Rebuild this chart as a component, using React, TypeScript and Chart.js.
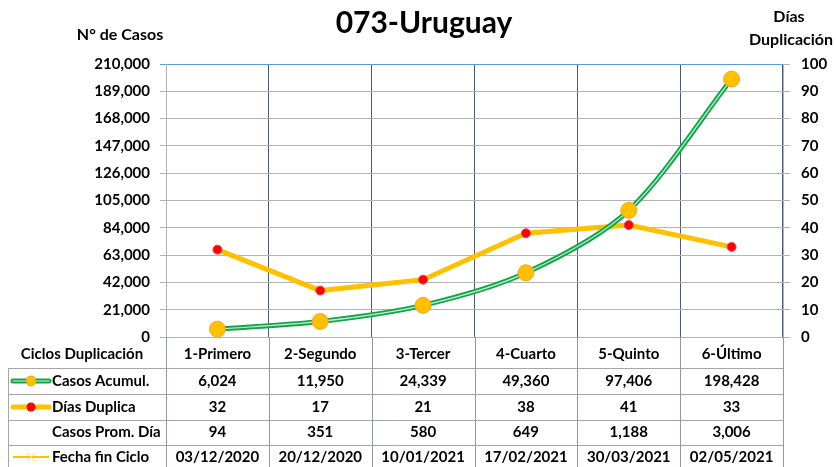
import React, { useEffect, useRef } from "react";
import { Chart, registerables } from "chart.js";

Chart.register(...registerables);

const categories = ["1-Primero", "2-Segundo", "3-Tercer", "4-Cuarto", "5-Quinto", "6-Último"];
const casosAcumul = [6024, 11950, 24339, 49360, 97406, 198428];
const diasDuplica = [32, 17, 21, 38, 41, 33];
const casosPromDia = [94, 351, 580, 649, 1188, 3006];
const fechaFinCiclo = ["03/12/2020", "20/12/2020", "10/01/2021", "17/02/2021", "30/03/2021", "02/05/2021"];

const FONT = "Lato, 'Open Sans', sans-serif";
const GREEN = "#12a54a";
const GREEN_LIGHT = "#c9f0d2";
const ORANGE = "#ffc000";
const RED = "#ff0000";
const GRID = "#b3b3b3";
const VGRID = "#4b5b70";

const fmt = (n: number) => n.toLocaleString("en-US");

const tablePlugin = {
  id: "tablePlugin",
  afterDraw(chart: any) {
    const ctx = chart.ctx as CanvasRenderingContext2D;
    const area = chart.chartArea;
    const xs = chart.scales.x;
    const n = categories.length;
    const colW = (area.right - area.left) / n;
    ctx.save();

    // titles
    ctx.fillStyle = "#000";
    ctx.textAlign = "center";
    ctx.textBaseline = "middle";
    ctx.font = `bold 30px ${FONT}`;
    ctx.fillText("073-Uruguay", 424, 23);
    ctx.font = `bold 16px ${FONT}`;
    ctx.fillText("N° de Casos", 120, 35);
    ctx.fillText("Días", 789, 17);
    ctx.fillText("Duplicación", 791, 40);

    // table lines
    const rowLines = [368, 394, 420, 445];
    const bottom = 470;
    ctx.lineWidth = 1;
    ctx.strokeStyle = "#a6a6a6";
    rowLines.forEach((y) => {
      ctx.beginPath();
      ctx.moveTo(8, y + 0.5);
      ctx.lineTo(area.right, y + 0.5);
      ctx.stroke();
    });
    ctx.beginPath();
    ctx.moveTo(8.5, rowLines[0]);
    ctx.lineTo(8.5, bottom);
    ctx.stroke();
    ctx.strokeStyle = "#8e9aab";
    for (let i = 0; i <= n; i++) {
      const x = Math.round(area.left + i * colW) + 0.5;
      ctx.beginPath();
      ctx.moveTo(x, area.bottom);
      ctx.lineTo(x, bottom);
      ctx.stroke();
    }

    // header label
    ctx.fillStyle = "#000";
    ctx.font = `bold 15px ${FONT}`;
    ctx.textAlign = "center";
    ctx.fillText("Ciclos Duplicación", 82, 354);

    const rowsY = [381, 407, 432, 457];
    const labels = ["Casos Acumul.", "Días Duplica", "Casos Prom. Día", "Fecha fin Ciclo"];
    const rows = [casosAcumul.map(fmt), diasDuplica.map(String), casosPromDia.map(fmt), fechaFinCiclo];
    ctx.textAlign = "left";
    labels.forEach((l, r) => ctx.fillText(l, 52, rowsY[r]));
    ctx.textAlign = "center";
    rows.forEach((row, r) => {
      row.forEach((v, i) => ctx.fillText(v, xs.getPixelForValue(i), rowsY[r]));
    });

    // legend keys
    ctx.lineCap = "round";
    ctx.strokeStyle = GREEN;
    ctx.lineWidth = 5;
    ctx.beginPath();
    ctx.moveTo(13, rowsY[0]);
    ctx.lineTo(49, rowsY[0]);
    ctx.stroke();
    ctx.strokeStyle = GREEN_LIGHT;
    ctx.lineWidth = 1.2;
    ctx.beginPath();
    ctx.moveTo(13, rowsY[0]);
    ctx.lineTo(49, rowsY[0]);
    ctx.stroke();
    ctx.fillStyle = ORANGE;
    ctx.strokeStyle = "#f0a020";
    ctx.lineWidth = 1;
    ctx.beginPath();
    ctx.arc(31, rowsY[0], 5, 0, Math.PI * 2);
    ctx.fill();
    ctx.stroke();
    ctx.strokeStyle = ORANGE;
    ctx.lineWidth = 5;
    ctx.beginPath();
    ctx.moveTo(13, rowsY[1]);
    ctx.lineTo(49, rowsY[1]);
    ctx.stroke();
    ctx.fillStyle = RED;
    ctx.beginPath();
    ctx.arc(31, rowsY[1], 4.5, 0, Math.PI * 2);
    ctx.fill();
    ctx.lineCap = "butt";
    ctx.strokeStyle = ORANGE;
    ctx.lineWidth = 2;
    ctx.beginPath();
    ctx.moveTo(13, rowsY[3]);
    ctx.lineTo(49, rowsY[3]);
    ctx.stroke();
    ctx.strokeStyle = "#ffd966";
    ctx.lineWidth = 1;
    ctx.beginPath();
    ctx.moveTo(27, rowsY[3] - 4);
    ctx.lineTo(35, rowsY[3] + 4);
    ctx.moveTo(35, rowsY[3] - 4);
    ctx.lineTo(27, rowsY[3] + 4);
    ctx.stroke();

    ctx.restore();
  },
};

export default function App() {
  const ref = useRef<HTMLCanvasElement>(null);
  useEffect(() => {
    if (!ref.current) return;
    const tickFont = { family: FONT, size: 15, weight: "bold" as const };
    const chart = new Chart(ref.current, {
      type: "line",
      data: {
        labels: categories,
        datasets: [
          {
            label: "Casos Acumul.",
            data: casosAcumul,
            yAxisID: "y",
            borderColor: GREEN_LIGHT,
            borderWidth: 1.2,
            tension: 0.3,
            pointRadius: 8,
            pointBackgroundColor: ORANGE,
            pointBorderColor: "#f4a62a",
            pointBorderWidth: 1,
            order: 0,
          },
          {
            label: "Casos base",
            data: casosAcumul,
            yAxisID: "y",
            borderColor: GREEN,
            borderWidth: 5,
            tension: 0.3,
            pointRadius: 0,
            order: 1,
          },
          {
            label: "Días Duplica",
            data: diasDuplica,
            yAxisID: "y1",
            borderColor: ORANGE,
            borderWidth: 5,
            tension: 0,
            pointRadius: 4.5,
            pointBackgroundColor: RED,
            pointBorderColor: "#e8484f",
            pointBorderWidth: 1,
            order: 2,
          },
        ],
      },
      options: {
        responsive: false,
        animation: false,
        layout: { padding: { top: 64, left: 0, right: 0, bottom: 0 } },
        plugins: { legend: { display: false }, title: { display: false }, tooltip: { enabled: false } },
        scales: {
          x: {
            offset: true,
            grid: { offset: true, color: VGRID, drawTicks: false, lineWidth: 1 },
            border: { color: GRID },
            ticks: { font: tickFont, color: "#000", padding: 8, maxRotation: 0 },
            afterFit: (s: any) => {
              s.height = 130;
            },
          },
          y: {
            position: "left",
            min: 0,
            max: 210000,
            ticks: { stepSize: 21000, font: tickFont, color: "#000", padding: 10, callback: (v: any) => fmt(Number(v)) },
            grid: {
              color: (c: any) => (c.tick && c.tick.value === 210000 ? "#5b9bd5" : GRID),
              tickLength: 6,
            },
            border: { color: GRID },
            afterFit: (s: any) => {
              s.width = 166;
            },
          },
          y1: {
            position: "right",
            min: 0,
            max: 100,
            ticks: { stepSize: 10, font: tickFont, color: "#000", padding: 11 },
            grid: { drawOnChartArea: false, color: GRID, tickLength: 7 },
            border: { color: GRID },
            afterFit: (s: any) => {
              s.width = 53;
            },
          },
        },
      },
      plugins: [tablePlugin],
    });
    return () => chart.destroy();
  }, []);
  return (
    <div style={{ position: "fixed", left: 0, top: 0, width: 836, height: 467, background: "#fff" }}>
      <canvas ref={ref} width={836} height={467} style={{ display: "block" }} />
    </div>
  );
}
